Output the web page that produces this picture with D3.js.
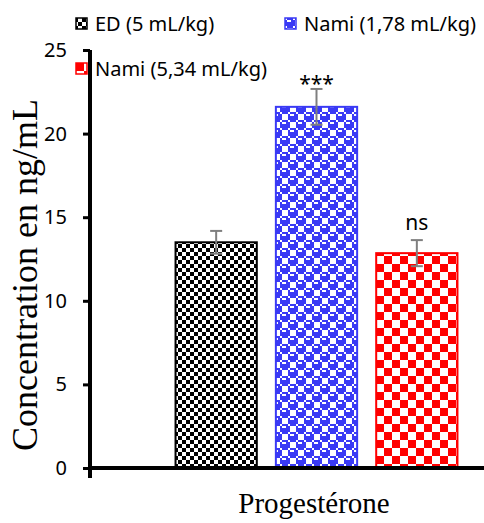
<!DOCTYPE html>
<html>
<head>
<meta charset="utf-8">
<script src="https://cdn.jsdelivr.net/npm/d3@7"></script>
<style>
  body { margin: 0; background: #fff; }
  svg { display: block; }
</style>
</head>
<body>
<div id="chart"></div>
<script>
// values
const series = ['ED (5 mL/kg)', 'Nami (1,78 mL/kg)', 'Nami (5,34 mL/kg)'];
const means = [13.5, 21.6, 12.85];
const errors = [0.68, 1.07, 0.78];
const marks = ['', '***', 'ns'];
const yTicks = [0, 5, 10, 15, 20, 25];
const category = 'Progestérone';
const yTitle = 'Concentration en ng/mL';

const colors = ['#000000', '#3a3af5', '#ff0000'];
const patternIds = ['pat-small-check', 'pat-sphere', 'pat-large-check'];

const width = 484, height = 523;

const svg = d3.select('#chart').append('svg')
	.attr('width', width)
	.attr('height', height);

const defs = svg.append('defs');

// little 8x8 bitmaps like the office hatch patterns, scaled by 2
function bitmapPattern(id, rows, color, px) {
	const p = defs.append('pattern')
		.attr('id', id)
		.attr('patternUnits', 'userSpaceOnUse')
		.attr('width', 8 * px)
		.attr('height', rows.length * px);
	p.append('rect').attr('width', 8 * px).attr('height', rows.length * px).attr('fill', '#fff');
	rows.forEach((r, j) => {
		for (let i = 0; i < 8; i++) {
			if ((r >> (7 - i)) & 1) {
				p.append('rect')
					.attr('x', i * px).attr('y', j * px)
					.attr('width', px).attr('height', px)
					.attr('fill', color)
					.attr('shape-rendering', 'crispEdges');
			}
		}
	});
}

bitmapPattern(patternIds[0], [0x99, 0x99, 0x66, 0x66, 0x99, 0x99, 0x66, 0x66], colors[0], 2);
bitmapPattern(patternIds[1], [0x77, 0x98, 0xf8, 0xf8, 0x77, 0x89, 0x8f, 0x8f], colors[1], 2);
bitmapPattern(patternIds[2], [0xf0, 0xf0, 0xf0, 0xf0, 0x0f, 0x0f, 0x0f, 0x0f], colors[2], 2);

const y = d3.scaleLinear().domain([0, 25]).range([468, 50]);
const x = d3.scaleBand()
	.domain(series)
	.range([166, 467])
	.paddingInner(0.19)
	.paddingOuter(0.095);

// bars
svg.selectAll('rect.bar')
	.data(series)
	.enter()
	.append('rect')
	.classed('bar', true)
	.attr('x', d => x(d))
	.attr('width', x.bandwidth())
	.attr('y', (d, i) => y(means[i]))
	.attr('height', (d, i) => y(0) - y(means[i]))
	.attr('fill', (d, i) => 'url(#' + patternIds[i] + ')')
	.attr('stroke', (d, i) => colors[i])
	.attr('stroke-width', 2);

// error bars
const err = svg.selectAll('g.err')
	.data(series)
	.enter()
	.append('g')
	.classed('err', true)
	.attr('stroke', '#7f7f7f')
	.attr('stroke-width', 2);

err.append('line')
	.attr('x1', d => x(d) + x.bandwidth() / 2)
	.attr('x2', d => x(d) + x.bandwidth() / 2)
	.attr('y1', (d, i) => y(means[i] + errors[i]))
	.attr('y2', (d, i) => y(means[i] - errors[i]));
[1, -1].forEach(s => {
	err.append('line')
		.attr('x1', d => x(d) + x.bandwidth() / 2 - 6)
		.attr('x2', d => x(d) + x.bandwidth() / 2 + 6)
		.attr('y1', (d, i) => y(means[i] + s * errors[i]))
		.attr('y2', (d, i) => y(means[i] + s * errors[i]));
});

// significance marks
svg.selectAll('text.mark')
	.data(series)
	.enter()
	.append('text')
	.classed('mark', true)
	.attr('x', d => x(d) + x.bandwidth() / 2)
	.attr('y', (d, i) => i === 1 ? y(means[i] + errors[i]) + 2 : y(means[i] + errors[i]) - 10)
	.attr('text-anchor', 'middle')
	.style('font-family', '"Noto Sans", sans-serif')
	.style('font-size', '21px')
	.text((d, i) => marks[i]);

// y axis
const yAxis = svg.append('g')
	.attr('transform', 'translate(90,0)')
	.call(d3.axisLeft(y).tickValues(yTicks).tickSize(7).tickPadding(16));
yAxis.select('.domain').attr('stroke-width', 4).attr('d', 'M0,' + y(25) + 'V' + y(0));
yAxis.selectAll('.tick line').attr('stroke-width', 3);
yAxis.selectAll('.tick text')
	.style('font-family', '"Noto Sans", sans-serif')
	.style('font-size', '20px')
	.attr('fill', '#000');

// x axis line with the small tick under the origin
svg.append('line')
	.attr('x1', 88).attr('x2', width)
	.attr('y1', y(0)).attr('y2', y(0))
	.attr('stroke', '#000').attr('stroke-width', 4);
svg.append('line')
	.attr('x1', 90).attr('x2', 90)
	.attr('y1', y(0)).attr('y2', y(0) + 10)
	.attr('stroke', '#000').attr('stroke-width', 4);

// titles
svg.append('text')
	.attr('x', 314)
	.attr('y', 513)
	.attr('text-anchor', 'middle')
	.style('font-family', '"Liberation Serif", serif')
	.style('font-size', '29px')
	.text(category);

svg.append('text')
	.attr('transform', 'translate(37,275) rotate(-90)')
	.attr('text-anchor', 'middle')
	.style('font-family', '"Liberation Serif", serif')
	.style('font-size', '36px')
	.text(yTitle);

// legend
const legendPos = [[76, 18], [285, 18], [76, 63]];
const legend = svg.selectAll('g.legend')
	.data(series)
	.enter()
	.append('g')
	.classed('legend', true)
	.attr('transform', (d, i) => 'translate(' + legendPos[i][0] + ',' + legendPos[i][1] + ')');
legend.append('rect')
	.attr('width', 11).attr('height', 11)
	.attr('fill', (d, i) => 'url(#' + patternIds[i] + ')')
	.attr('stroke', (d, i) => colors[i])
	.attr('stroke-width', 1.5);
legend.append('text')
	.attr('x', 19)
	.attr('y', 13)
	.style('font-family', '"Noto Sans", sans-serif')
	.style('font-size', '20px')
	.text(d => d);
</script>
</body>
</html>
